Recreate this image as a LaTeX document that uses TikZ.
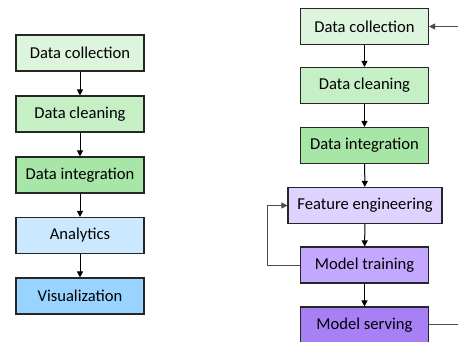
\documentclass[tikz,border=0pt]{standalone}
\usepackage{fontspec}
\setmainfont{Carlito}
\usetikzlibrary{arrows.meta}
\definecolor{g1}{HTML}{DDF5DD}
\definecolor{g2}{HTML}{C6EFC6}
\definecolor{g3}{HTML}{A8E6A8}
\definecolor{b1}{HTML}{CCE8FF}
\definecolor{b2}{HTML}{99D3FF}
\definecolor{p1}{HTML}{E0D2FF}
\definecolor{p2}{HTML}{C4A8FF}
\definecolor{p3}{HTML}{A880F5}
\tikzset{
  box/.style={draw=black!85, line width=1.1pt, minimum width=128pt, minimum height=36pt, inner sep=0pt, font=\fontsize{16.6}{18}\selectfont},
  wbox/.style={box, minimum width=154pt},
  arr/.style={-{Triangle[length=6pt,width=6pt]}, line width=1pt, black},
  loop/.style={line width=1pt, black!70},
}
\begin{document}
\begin{tikzpicture}[x=1pt,y=-1pt]
\clip (0,0) rectangle (458,341);
\useasboundingbox (0,0) rectangle (458,341);
% left column
\node[box, fill=g1] (l1) at (80,53) {Data collection};
\node[box, fill=g2] (l2) at (80,114) {Data cleaning};
\node[box, fill=g3] (l3) at (80,175) {Data integration};
\node[box, fill=b1] (l4) at (80,235.5) {Analytics};
\node[box, fill=b2] (l5) at (80,296) {Visualization};
\draw[arr] (l1) -- (l2);
\draw[arr] (l2) -- (l3);
\draw[arr] (l3) -- (l4);
\draw[arr] (l4) -- (l5);
% right column
\node[box, fill=g1] (r1) at (364.5,26.5) {Data collection};
\node[box, fill=g2] (r2) at (364.5,85.5) {Data cleaning};
\node[box, fill=g3] (r3) at (364.5,145.5) {Data integration};
\node[wbox, fill=p1] (r4) at (365,205.5) {Feature engineering};
\node[box, fill=p2] (r5) at (364.5,265) {Model training};
\node[box, fill=p3] (r6) at (364.5,325) {Model serving};
\draw[arr] (r1) -- (r2);
\draw[arr] (r2) -- (r3);
\draw[arr] (r3) -- (r4);
\draw[arr] (r4) -- (r5);
\draw[arr] (r5) -- (r6);
\coordinate (lp) at (267,0);
\draw[loop, -{Triangle[length=6pt,width=6pt]}] (r5.west) -| (lp |- r5.west) |- (r4.west);
\coordinate (ex) at (470,0);
\draw[loop] ([yshift=1pt]r6.east) -- ([yshift=1pt]ex |- r6.east) -- (ex |- r1.east);
\draw[loop, -{Triangle[length=6pt,width=6pt]}] (ex |- r1.east) -- (r1.east);
\end{tikzpicture}
\end{document}
